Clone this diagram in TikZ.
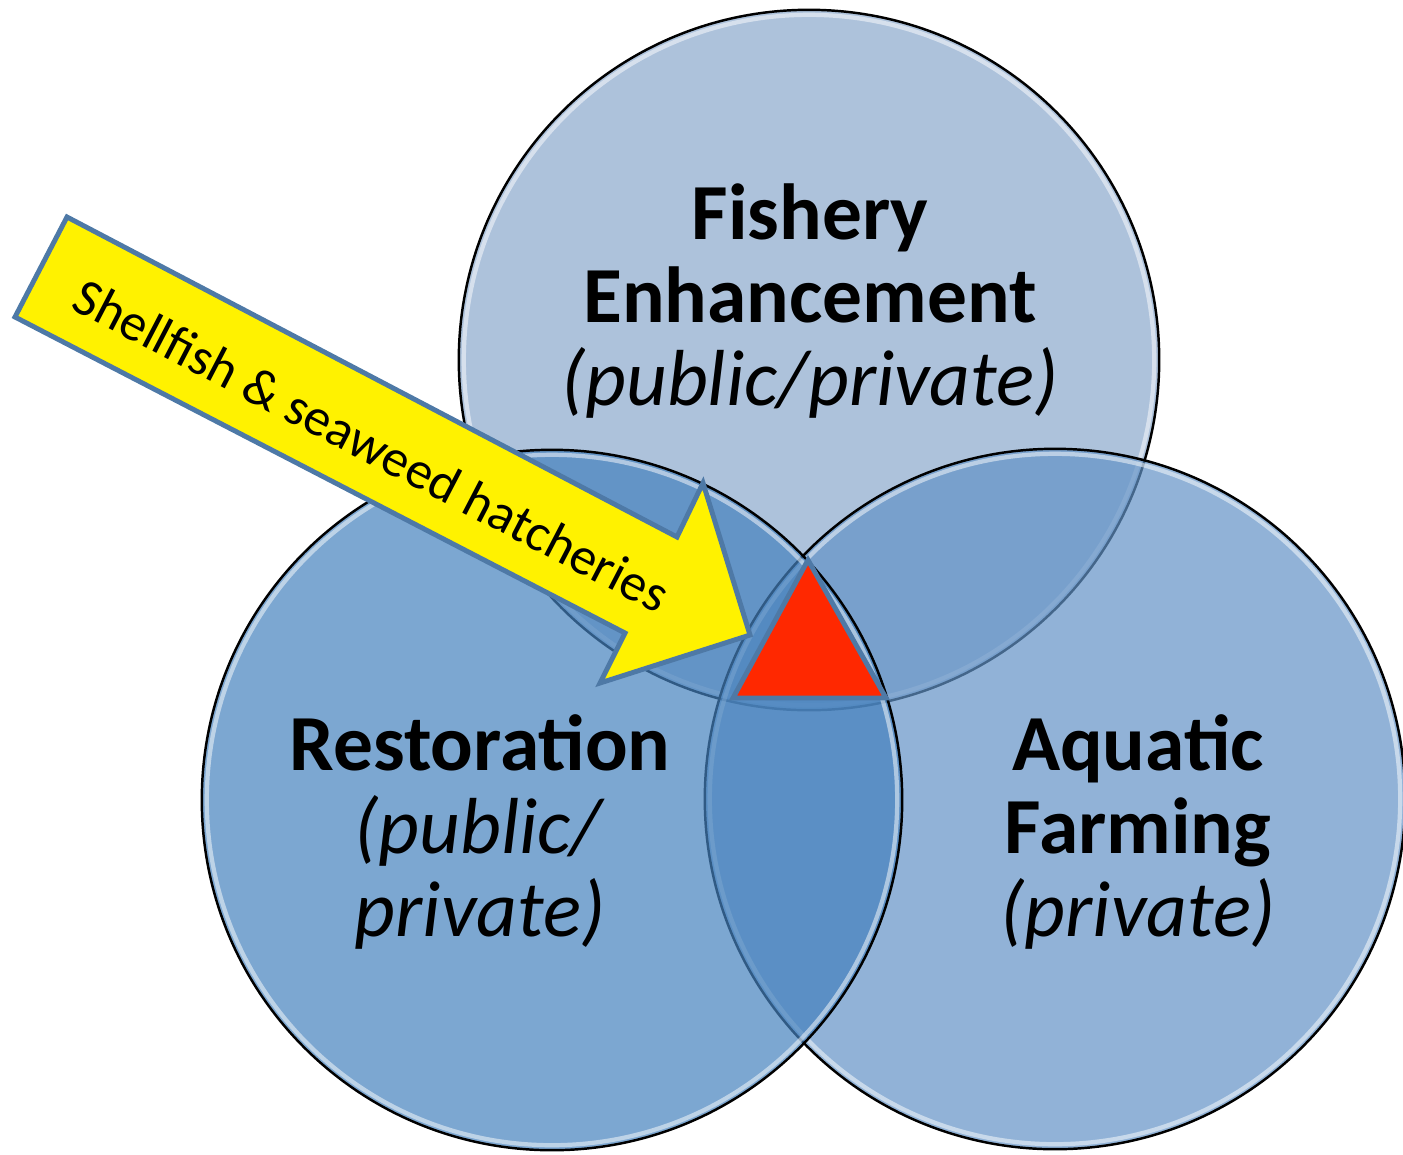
\documentclass[tikz,border=0pt]{standalone}
\usepackage{fontspec}
\setmainfont{Carlito}
\usetikzlibrary{arrows,positioning}
\definecolor{fishblue}{RGB}{138,168,204}
\definecolor{farmblue}{RGB}{98,146,198}
\definecolor{restblue}{RGB}{69,129,189}
\definecolor{edgeblue}{RGB}{78,121,166}
\definecolor{hotred}{RGB}{255,40,0}
\begin{document}
\begin{tikzpicture}[x=0.01cm,y=-0.01cm,
    venn/.style={circle,draw=black,line width=.7pt,minimum size=7cm,inner sep=0pt,fill opacity=.7},
    shine/.style={draw=white,draw opacity=.5,line width=1.2pt},
    venntext/.style={align=center,font=\fontsize{22.6}{23.6}\selectfont}]
    \useasboundingbox (0,0) rectangle (1403,1154);
    \node[venn,fill=fishblue] (fish) at (809,360) {};
    \draw[shine] (fish.center) circle (3.45cm);
    \node[venn,fill=farmblue] (farm) at (1055,799) {};
    \draw[shine] (farm.center) circle (3.45cm);
    \node[venn,fill=restblue] (rest) at (552,800) {};
    \draw[shine] (rest.center) circle (3.45cm);
    \node[venntext] (fishtxt) at (810,301) {\textbf{Fishery}\\\textbf{Enhancement}\\\textit{(public/private)}};
    \node[venntext] (resttxt) at (480,832) {\textbf{Restoration}\\\textit{(public/}\\\textit{private)}};
    \node[venntext] (farmtxt) at (1138,832) {\textbf{Aquatic}\\\textbf{Farming}\\\textit{(private)}};
    % hatchery arrow
    \draw[fill=yellow,draw=edgeblue,line width=1.4pt] (67,217) -- (677,537) -- (703,483) -- (750,635)
        -- (600,683) -- (625,633) -- (15,317) -- cycle;
    \node[rotate=-27.5,font=\fontsize{15}{18}\selectfont] (hatch) at (372,445) {Shellfish \& seaweed hatcheries};
    \draw[fill=hotred,draw=edgeblue,line width=1.4pt] (733,698) -- (886,698) -- (808,560) -- cycle;
\end{tikzpicture}
\end{document}
